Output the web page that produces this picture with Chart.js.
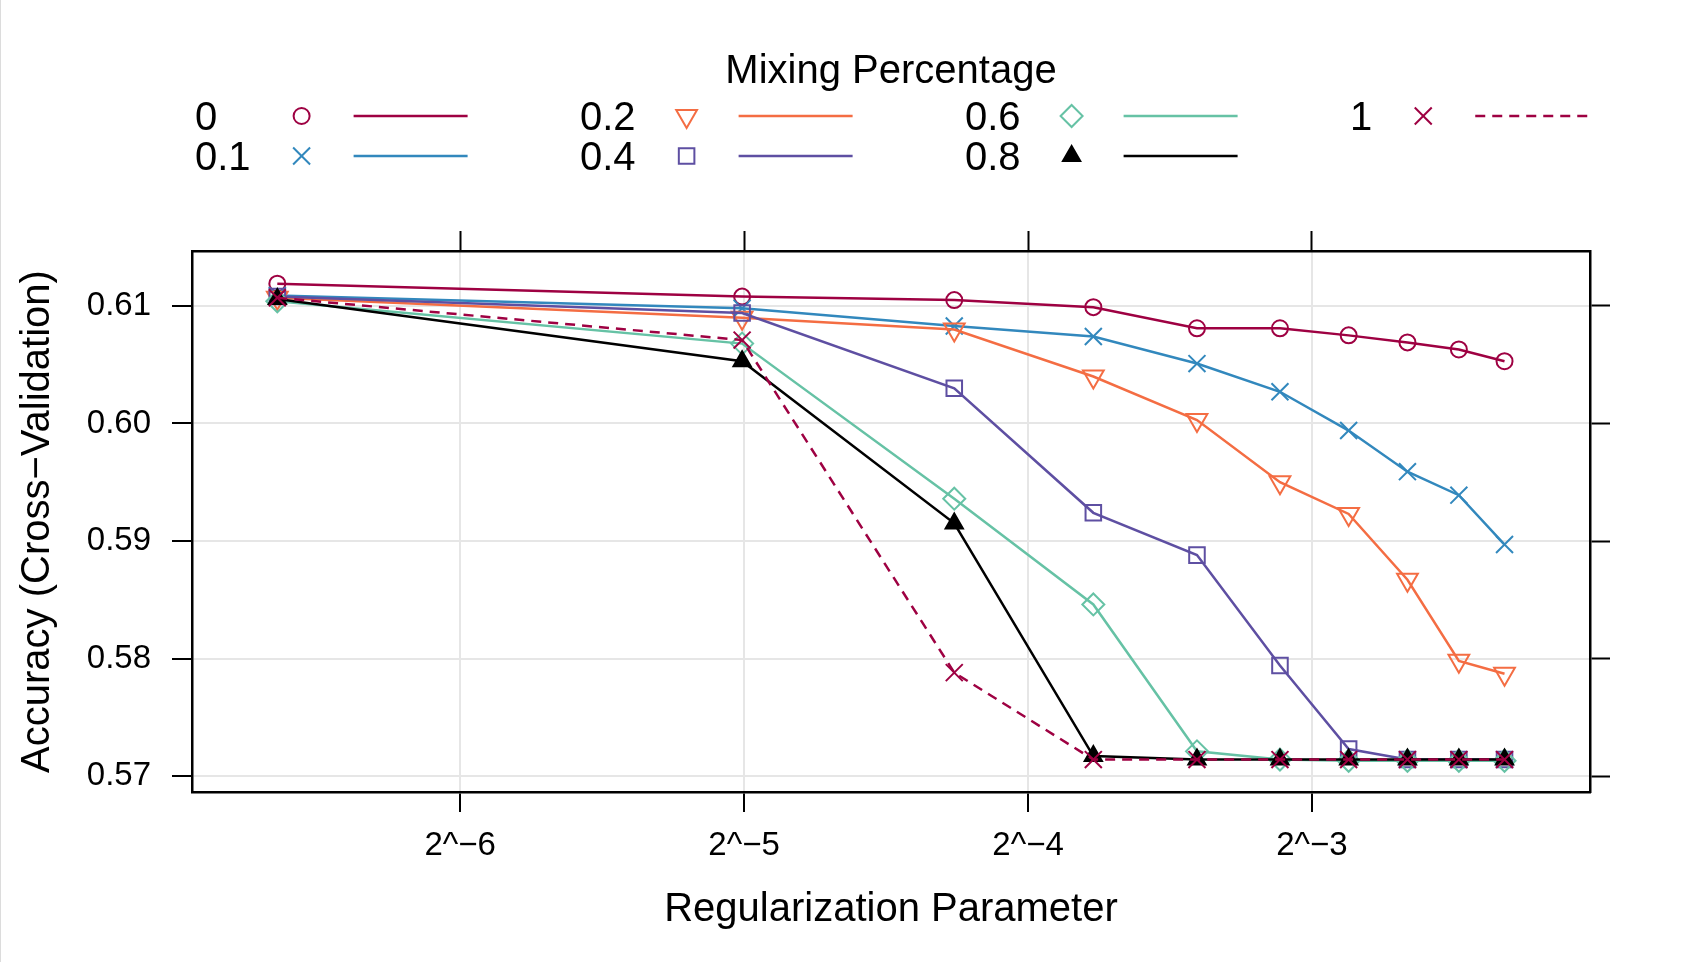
<!DOCTYPE html>
<html lang="en">
  <head>
    <meta charset="UTF-8" />
    <script src="https://cdn.jsdelivr.net/npm/chart.js"></script>
    <title>Mixing Percentage</title>
    <style>
      body { margin: 0; background: #fff; }
      .tudo { position: relative; width: 1684px; height: 962px; }
      .borda { position: absolute; left: 0; top: 0; width: 1px; height: 962px; background: #dcdcdc; }
    </style>
  </head>
  <body>
    <div class="tudo">
      <canvas id="canvas_grafico"></canvas>
      <div class="borda"></div>
    </div>
  </body>
</html>
<script>
  // values
  var lambdaValues = [0.01, 0.0311, 0.0522, 0.0733, 0.0944, 0.1156, 0.1367, 0.1578, 0.1789, 0.2];
  var mixLabels = ["0", "0.1", "0.2", "0.4", "0.6", "0.8", "1"];

  var acc0 = [0.6119, 0.6108, 0.6105, 0.6099, 0.6081, 0.6081, 0.6075, 0.6069, 0.6063, 0.6053];
  var acc01 = [0.6109, 0.6098, 0.6083, 0.6074, 0.6051, 0.6027, 0.5994, 0.5959, 0.5939, 0.5897];
  var acc02 = [0.6107, 0.6090, 0.6080, 0.6040, 0.6003, 0.5950, 0.5923, 0.5867, 0.5798, 0.5787];
  var acc04 = [0.6108, 0.6094, 0.6030, 0.5924, 0.5888, 0.5794, 0.5723, 0.5714, 0.5714, 0.5714];
  var acc06 = [0.6104, 0.6068, 0.5936, 0.5846, 0.5721, 0.5714, 0.5713, 0.5713, 0.5713, 0.5713];
  var acc08 = [0.6106, 0.6053, 0.5915, 0.5717, 0.5714, 0.5714, 0.5714, 0.5714, 0.5714, 0.5714];
  var acc1 = [0.6107, 0.6071, 0.5788, 0.5714, 0.5714, 0.5714, 0.5714, 0.5714, 0.5714, 0.5714];

  var xTickValues = [1 / 64, 1 / 32, 1 / 16, 1 / 8];
  var xTickLabels = ["2^\u22126", "2^\u22125", "2^\u22124", "2^\u22123"];
  var yTickValues = [0.57, 0.58, 0.59, 0.6, 0.61];

  var xMin = 0.00812, xMax = 0.2464;
  var yMin = 0.56864, yMax = 0.61468;

  var fonte = '"Liberation Sans", Arial, Helvetica, sans-serif';
  Chart.defaults.font.family = fonte;
  Chart.defaults.color = "#000";

  // caret theme look
  var estilos = [
    { cor: "#9E0142", ponto: "circle", raio: 8, rot: 0, fundo: "rgba(0,0,0,0)", traco: [] },
    { cor: "#3288BD", ponto: "crossRot", raio: 12, rot: 0, fundo: "rgba(0,0,0,0)", traco: [] },
    { cor: "#F46D43", ponto: "triangle", raio: 12, rot: 180, fundo: "rgba(0,0,0,0)", traco: [] },
    { cor: "#5E4FA2", ponto: "rect", raio: 11, rot: 0, fundo: "rgba(0,0,0,0)", traco: [] },
    { cor: "#66C2A5", ponto: "rectRot", raio: 11, rot: 0, fundo: "rgba(0,0,0,0)", traco: [] },
    { cor: "#000000", ponto: "triangle", raio: 10, rot: 0, fundo: "#000000", traco: [] },
    { cor: "#9E0142", ponto: "crossRot", raio: 12, rot: 0, fundo: "rgba(0,0,0,0)", traco: [10, 7] },
  ];
  var series = [acc0, acc01, acc02, acc04, acc06, acc08, acc1];

  var datasets = [];
  for (var i = 0; i < series.length; i++) {
    var e = estilos[i];
    var pts = [];
    for (var j = 0; j < lambdaValues.length; j++) {
      pts.push({ x: lambdaValues[j], y: series[i][j] });
    }
    datasets.push({
      label: mixLabels[i],
      data: pts,
      borderColor: e.cor,
      backgroundColor: e.fundo,
      borderWidth: 2.5,
      borderDash: e.traco,
      pointStyle: e.ponto,
      pointRotation: e.rot,
      pointRadius: e.raio,
      pointBorderWidth: 2,
      pointBorderColor: e.cor,
      pointBackgroundColor: e.fundo,
      tension: 0,
      order: series.length - i,
    });
  }

  // legend: 4 columns, 2 rows, filled down the columns
  var legendaPlugin = {
    id: "legendaMix",
    afterDraw: function (chart) {
      var ctx = chart.ctx;
      var area = chart.chartArea;
      ctx.save();
      ctx.fillStyle = "#000";
      ctx.font = "40px " + fonte;
      ctx.textAlign = "center";
      ctx.textBaseline = "alphabetic";
      ctx.fillText("Mixing Percentage", (area.left + area.right) / 2, 83);

      ctx.textAlign = "left";
      var nCols = 4;
      for (var c = 0; c < nCols; c++) {
        var x0 = 195 + c * 385;
        var idx = [2 * c, 2 * c + 1].filter(function (k) { return k < chart.data.datasets.length; });
        var maxW = 0;
        idx.forEach(function (k) {
          maxW = Math.max(maxW, ctx.measureText(chart.data.datasets[k].label).width);
        });
        idx.forEach(function (k, r) {
          var ds = chart.data.datasets[k];
          var yRow = 116 + r * 40;
          var xm = x0 + maxW + 51;
          ctx.fillStyle = "#000";
          ctx.font = "40px " + fonte;
          ctx.fillText(ds.label, x0, yRow + 14);

          ctx.save();
          ctx.strokeStyle = ds.pointBorderColor;
          ctx.fillStyle = ds.pointBackgroundColor;
          ctx.lineWidth = 2;
          if (Chart.helpers && Chart.helpers.drawPoint) {
            Chart.helpers.drawPoint(ctx, {
              pointStyle: ds.pointStyle,
              rotation: ds.pointRotation,
              radius: ds.pointRadius,
              borderWidth: 2,
            }, xm, yRow);
          }
          ctx.restore();

          ctx.save();
          ctx.strokeStyle = ds.borderColor;
          ctx.lineWidth = 2.5;
          ctx.setLineDash(ds.borderDash || []);
          ctx.beginPath();
          ctx.moveTo(xm + 52, yRow);
          ctx.lineTo(xm + 166, yRow);
          ctx.stroke();
          ctx.restore();
        });
      }
      ctx.restore();
    },
  };

  var grade = { color: "#E6E6E6", lineWidth: 2, tickColor: "#000", tickWidth: 2, tickLength: 20, drawTicks: true };
  var borda = { color: "#000", width: 2.5 };

  var config = {
    type: "line",
    data: { datasets: datasets },
    plugins: [legendaPlugin],
    options: {
      responsive: true,
      maintainAspectRatio: false,
      animation: false,
      events: [],
      layout: { padding: { top: 231, left: 0, right: 0, bottom: 0 } },
      plugins: { legend: { display: false }, tooltip: { enabled: false } },
      scales: {
        x: {
          type: "logarithmic",
          position: "bottom",
          min: xMin,
          max: xMax,
          bounds: "data",
          afterBuildTicks: function (s) {
            s.ticks = xTickValues.map(function (v) { return { value: v }; });
          },
          afterFit: function (s) { s.height = 170; },
          ticks: {
            autoSkip: false,
            maxRotation: 0,
            padding: 14,
            font: { size: 33 },
            color: "#000",
            callback: function (v, i) { return xTickLabels[i]; },
          },
          grid: grade,
          border: borda,
          title: {
            display: true,
            text: "Regularization Parameter",
            font: { size: 40 },
            color: "#000",
            padding: { top: 0, bottom: 28 },
          },
        },
        xTop: {
          type: "logarithmic",
          position: "top",
          min: xMin,
          max: xMax,
          bounds: "data",
          afterBuildTicks: function (s) {
            s.ticks = xTickValues.map(function (v) { return { value: v }; });
          },
          afterFit: function (s) { s.height = 20; },
          ticks: { display: false },
          grid: { drawOnChartArea: false, tickColor: "#000", tickWidth: 2, tickLength: 20 },
          border: borda,
        },
        y: {
          type: "linear",
          position: "left",
          min: yMin,
          max: yMax,
          afterBuildTicks: function (s) {
            s.ticks = yTickValues.map(function (v) { return { value: v }; });
          },
          afterFit: function (s) { s.width = 192; },
          ticks: {
            padding: 21,
            font: { size: 33 },
            color: "#000",
            callback: function (v) { return Number(v).toFixed(2); },
          },
          grid: grade,
          border: borda,
          title: {
            display: true,
            text: "Accuracy (Cross\u2212Validation)",
            font: { size: 40 },
            color: "#000",
            padding: { top: 14, bottom: 0 },
          },
        },
        yRight: {
          type: "linear",
          position: "right",
          min: yMin,
          max: yMax,
          afterBuildTicks: function (s) {
            s.ticks = yTickValues.map(function (v) { return { value: v }; });
          },
          afterFit: function (s) { s.width = 94; },
          ticks: { display: false },
          grid: { drawOnChartArea: false, tickColor: "#000", tickWidth: 2, tickLength: 20 },
          border: borda,
        },
      },
    },
  };

  var grafico = new Chart(document.getElementById("canvas_grafico"), config);
</script>
